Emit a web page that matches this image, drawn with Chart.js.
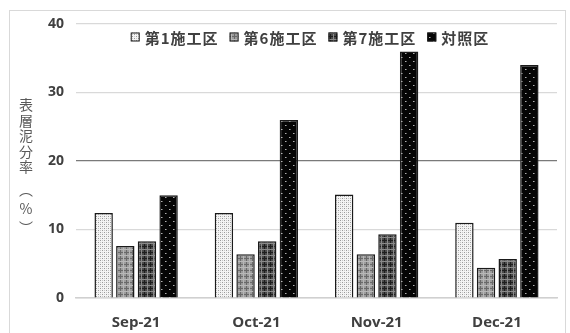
<!DOCTYPE html>
<html>
<head>
<meta charset="utf-8">
<script src="https://cdn.jsdelivr.net/npm/chart.js@4"></script>
<style>
  body { margin: 0; background: #fff; }
  #wrap { position: relative; width: 570px; height: 333px; }
  #ytitle {
    position: absolute; left: 19px; top: 98px;
    writing-mode: vertical-rl; text-orientation: upright;
    font-family: "Noto Sans CJK JP", sans-serif; font-size: 14px;
    letter-spacing: 1.5px; line-height: 1; color: #595959;
  }
  #ytitle span { padding-top: 7px; letter-spacing: 5px; }
</style>
</head>
<body>
<div id="wrap">
  <canvas id="barChart" width="570" height="333"></canvas>
  <div id="ytitle">表層泥分率<span>（%）</span></div>
</div>
<script>
// data
const months = ['Sep-21', 'Oct-21', 'Nov-21', 'Dec-21'];
const site1 = [12.4, 12.4, 15.1, 11.0];
const site6 = [7.6, 6.4, 6.4, 4.4];
const site7 = [8.3, 8.3, 9.3, 5.7];
const control = [15.0, 26.0, 36.0, 34.0];
const seriesNames = ['第1施工区', '第6施工区', '第7施工区', '対照区'];
const yTicks = [0, 10, 20, 30, 40];

function makePattern(size, drawFn) {
    // small tile -> canvas pattern
    const c = document.createElement('canvas');
    c.width = size; c.height = size;
    const g = c.getContext('2d');
    drawFn(g);
    return document.getElementById('barChart').getContext('2d').createPattern(c, 'repeat');
}

const dotsLight = makePattern(4, g => {
    g.fillStyle = '#f4f4f4'; g.fillRect(0, 0, 4, 4);
    g.fillStyle = '#9a9a9a'; g.fillRect(0, 0, 1, 1); g.fillRect(2, 2, 1, 1);
    g.fillStyle = '#c8c8c8'; g.fillRect(2, 0, 1, 1); g.fillRect(0, 2, 1, 1);
});
const plaidGray = makePattern(6, g => {
    g.fillStyle = '#9c9c9c'; g.fillRect(0, 0, 6, 6);
    g.fillStyle = '#6a6a6a'; g.fillRect(0, 0, 6, 1); g.fillRect(0, 0, 1, 6);
    g.fillStyle = '#b8b8b8'; g.fillRect(3, 0, 1, 6); g.fillRect(0, 3, 6, 1);
});
const plaidDark = makePattern(6, g => {
    g.fillStyle = '#4a4a4a'; g.fillRect(0, 0, 6, 6);
    g.fillStyle = '#1e1e1e'; g.fillRect(0, 0, 6, 1); g.fillRect(0, 0, 1, 6);
    g.fillStyle = '#8a8a8a'; g.fillRect(3, 0, 1, 6); g.fillRect(0, 3, 6, 1);
});
const dotsDark = makePattern(8, g => {
    g.fillStyle = '#050505'; g.fillRect(0, 0, 8, 8);
    g.fillStyle = '#b0b0b0'; g.fillRect(1, 1, 1, 1); g.fillRect(5, 5, 1, 1);
    g.fillStyle = '#606060'; g.fillRect(2, 1, 1, 1); g.fillRect(6, 5, 1, 1);
});

const framePlugin = {
    id: 'frame',
    beforeDraw(chart) {
        const ctx = chart.ctx;
        ctx.save();
        ctx.strokeStyle = '#d9d9d9';
        ctx.lineWidth = 1;
        ctx.strokeRect(9.5, 10.5, 556, 340);
        ctx.restore();
    }
};

// legend drawn inside the plot area, in one row under the top gridline
const innerLegend = {
    id: 'innerLegend',
    afterDatasetsDraw(chart) {
        const ctx = chart.ctx;
        ctx.save();
        ctx.font = 'bold 15px "Noto Sans CJK JP", sans-serif';
        ctx.letterSpacing = '1px';
        const box = 9, gapText = 5, gapItem = 11;
        const items = chart.data.datasets.map(ds => ({ ds, w: ctx.measureText(ds.label).width }));
        const total = items.reduce((s, it) => s + box + gapText + it.w, 0) + gapItem * (items.length - 1);
        let x = 310 - total / 2;
        const yc = chart.chartArea.top + 13;
        items.forEach(it => {
            ctx.fillStyle = it.ds.backgroundColor;
            ctx.fillRect(x, yc - box / 2, box, box);
            ctx.strokeStyle = '#1a1a1a';
            ctx.lineWidth = 1;
            ctx.strokeRect(x + 0.5, yc - box / 2 + 0.5, box - 1, box - 1);
            ctx.fillStyle = '#404040';
            ctx.textBaseline = 'middle';
            ctx.fillText(it.ds.label, x + box + gapText, yc + 1);
            x += box + gapText + it.w + gapItem;
        });
        ctx.restore();
    }
};

const ctx = document.getElementById('barChart').getContext('2d');
const fills = [dotsLight, plaidGray, plaidDark, dotsDark];
const values = [site1, site6, site7, control];

const barChart = new Chart(ctx, {
    type: 'bar',
    data: {
        labels: months,
        datasets: seriesNames.map((name, i) => ({
            label: name,
            data: values[i],
            backgroundColor: fills[i],
            borderColor: '#1a1a1a',
            borderWidth: 1.5,
            categoryPercentage: 0.72,
            barPercentage: 0.85
        }))
    },
    options: {
        responsive: false,
        animation: false,
        layout: { padding: { left: 36, right: 13, top: 24, bottom: -7 } },
        plugins: {
            legend: { display: false },
            tooltip: { enabled: false }
        },
        scales: {
            x: {
                grid: { display: false },
                border: { display: true, color: '#d0d0d0', width: 1.5 },
                ticks: {
                    padding: 8,
                    color: '#404040',
                    font: { family: '"Open Sans", sans-serif', size: 15, weight: 'bold' }
                }
            },
            y: {
                min: 0,
                max: 40,
                afterBuildTicks: axis => { axis.ticks = yTicks.map(v => ({ value: v })); },
                grid: {
                    drawTicks: false,
                    color: c => c.tick && c.tick.value === 20 ? '#7a7a7a' : '#d9d9d9',
                    lineWidth: 1.2
                },
                border: { display: false },
                ticks: {
                    padding: 12,
                    color: '#404040',
                    font: { family: '"Open Sans", sans-serif', size: 14, weight: 'bold' }
                }
            }
        }
    },
    plugins: [framePlugin, innerLegend]
});
</script>
</body>
</html>
